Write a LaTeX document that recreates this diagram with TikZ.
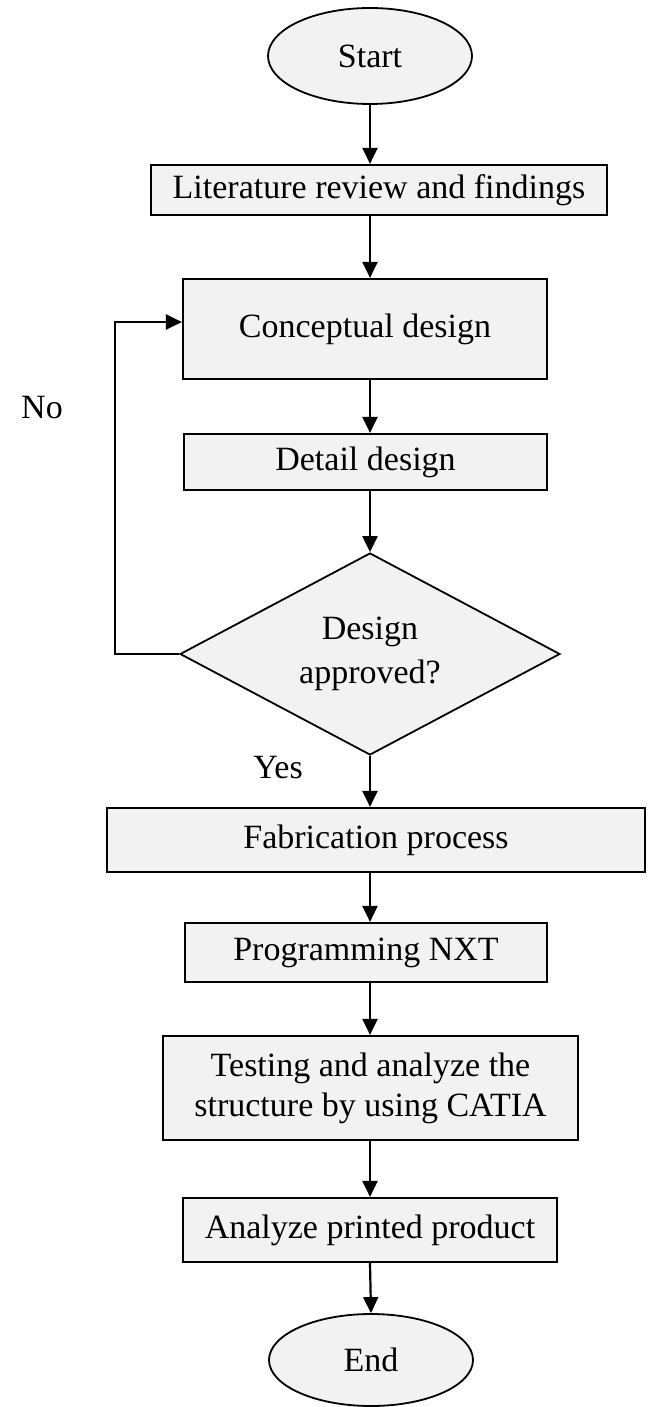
\documentclass[tikz,border=0pt]{standalone}
\usepackage{fontspec}
\setmainfont{Liberation Serif}
\usetikzlibrary{shapes.geometric,arrows.meta}
\definecolor{boxfill}{HTML}{F2F2F2}
\begin{document}
\begin{tikzpicture}[x=0.5pt,y=-0.5pt,
  every node/.style={font=\fontsize{17}{20}\selectfont},
  procbox/.style={draw, line width=1.1pt, fill=boxfill, rectangle, inner sep=0pt, align=center},
  termbox/.style={draw, line width=0.9pt, fill=boxfill, ellipse, inner sep=0pt,
    minimum width=102pt, minimum height=48pt},
  decbox/.style={draw, line width=0.9pt, fill=boxfill, diamond, inner sep=0pt, align=center,
    aspect=1.88, minimum width=190pt, minimum height=101pt},
  flow/.style={line width=1.1pt, -{Triangle[length=8pt,width=7.5pt]}},
  label/.style={inner sep=0pt}]
\useasboundingbox (0,0) rectangle (649,1407);

% process steps, top to bottom
\node[termbox] (start) at (370,56) {Start};
\node[procbox, minimum width=228pt, minimum height=25pt] (lit) at (379,190) {Literature review and findings};
\node[procbox, minimum width=182pt, minimum height=50pt] (concept) at (365,329) {Conceptual design};
\node[procbox, minimum width=181.5pt, minimum height=28pt] (detail) at (365.5,462) {Detail design};
\node[decbox] (approve) at (370,654) {Design\\[2pt]approved?};
\node[procbox, minimum width=269pt, minimum height=32pt] (fab) at (376,840) {Fabrication process};
\node[procbox, minimum width=181pt, minimum height=29.5pt] (prog) at (366,952.5) {Programming NXT};
\node[procbox, minimum width=207.5pt, minimum height=52pt] (test) at (370.5,1088) {Testing and analyze the\\structure by using CATIA};
\node[procbox, minimum width=187pt, minimum height=32pt] (analyze) at (370,1230) {Analyze printed product};
\node[termbox, minimum height=46pt] (finish) at (371,1360) {End};

% branch labels
\node[label] (nolbl) at (42,408) {No};
\node[label] (yeslbl) at (278,768) {Yes};

% main flow
\draw[flow] (start.south) -- (start.south |- lit.north);
\draw[flow] (start.south |- lit.south) -- (start.south |- concept.north);
\draw[flow] (start.south |- concept.south) -- (start.south |- detail.north);
\draw[flow] (start.south |- detail.south) -- (approve.north);
\draw[flow] (approve.south) -- (approve.south |- fab.north);
\draw[flow] (approve.south |- fab.south) -- (approve.south |- prog.north);
\draw[flow] (approve.south |- prog.south) -- (approve.south |- test.north);
\draw[flow] (approve.south |- test.south) -- (approve.south |- analyze.north);
\draw[flow] (approve.south |- analyze.south) -- (finish.north);

% rejection loop back to the conceptual design
\coordinate (loopbot) at (115,654);
\coordinate (looptop) at (115,322);
\draw[flow] (approve.west) -- (loopbot) -- (looptop) -- (looptop -| concept.west);
\end{tikzpicture}
\end{document}
